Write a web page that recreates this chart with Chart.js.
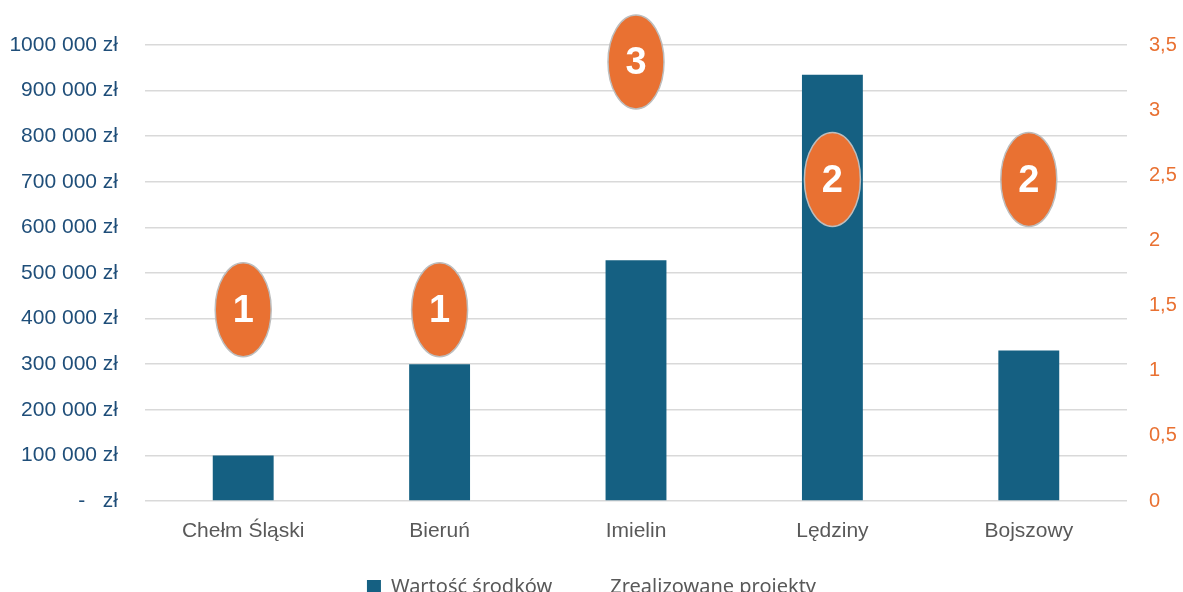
<!DOCTYPE html>
<html>
<head>
<meta charset="utf-8">
<script src="https://cdn.jsdelivr.net/npm/chart.js@4/dist/chart.umd.min.js"></script>
<style>
  html, body { margin: 0; padding: 0; background: #ffffff; overflow: hidden; }
  #wrap { width: 1183px; height: 607px; position: relative; }
</style>
</head>
<body>
<div id="wrap"><canvas id="c"></canvas></div>
<script>
const categories = ['Chełm Śląski', 'Bieruń', 'Imielin', 'Lędziny', 'Bojszowy'];
const fundValues = [100000, 300000, 528000, 935000, 330000];
const projectCounts = [1, 1, 3, 2, 2];
const leftTickLabels = ['-   zł', '100 000 zł', '200 000 zł', '300 000 zł', '400 000 zł', '500 000 zł',
  '600 000 zł', '700 000 zł', '800 000 zł', '900 000 zł', '1000 000 zł'];
const rightTickLabels = ['0', '0,5', '1', '1,5', '2', '2,5', '3', '3,5'];
const seriesNames = ['Wartość środków', 'Zrealizowane projekty'];

const BAR_COLOR = '#156082';
const ORANGE = '#E97132';

const ellipseLabels = {
  id: 'ellipseLabels',
  afterDatasetsDraw(chart) {
    const meta = chart.getDatasetMeta(1);
    const ctx = chart.ctx;
    const rx = 28, ry = 47;
    meta.data.forEach((pt, i) => {
      const cx = pt.x;
      const cy = Math.max(pt.y - 61, ry + 15);
      ctx.save();
      ctx.beginPath();
      ctx.ellipse(cx, cy, rx, ry, 0, 0, Math.PI * 2);
      ctx.fillStyle = ORANGE;
      ctx.fill();
      ctx.lineWidth = 1.5;
      ctx.strokeStyle = '#BDBDBD';
      ctx.stroke();
      ctx.fillStyle = '#ffffff';
      ctx.font = 'bold 38px "Liberation Sans", Arial, sans-serif';
      ctx.textAlign = 'center';
      ctx.textBaseline = 'middle';
      ctx.fillText(String(projectCounts[i]), cx, cy + 2);
      ctx.restore();
    });
  }
};

new Chart(document.getElementById('c'), {
  type: 'bar',
  data: {
    labels: categories,
    datasets: [
      {
        label: seriesNames[0],
        data: fundValues,
        backgroundColor: BAR_COLOR,
        yAxisID: 'y',
        barPercentage: 0.62,
        categoryPercentage: 0.5,
        order: 2
      },
      {
        type: 'line',
        label: seriesNames[1],
        data: projectCounts,
        yAxisID: 'y1',
        showLine: false,
        pointRadius: 0,
        borderColor: 'rgba(0,0,0,0)',
        backgroundColor: 'rgba(0,0,0,0)',
        order: 1
      }
    ]
  },
  options: {
    responsive: true,
    maintainAspectRatio: false,
    animation: false,
    layout: { padding: { top: 45, bottom: 0, left: 0, right: 0 } },
    plugins: {
      tooltip: { enabled: false },
      legend: {
        position: 'bottom',
        labels: {
          font: { family: '"Noto Sans", "Liberation Sans", sans-serif', size: 20 },
          color: '#595959',
          boxWidth: 14,
          boxHeight: 14,
          padding: 34,
          generateLabels(chart) {
            return chart.data.datasets.map((ds, i) => ({
              text: ds.label,
              fillStyle: i === 0 ? BAR_COLOR : 'rgba(0,0,0,0)',
              strokeStyle: 'rgba(0,0,0,0)',
              lineWidth: 0,
              fontColor: '#595959',
              datasetIndex: i,
              hidden: false
            }));
          }
        }
      }
    },
    scales: {
      x: {
        grid: { display: false },
        border: { display: false },
        ticks: {
          color: '#595959',
          font: { family: '"Liberation Sans", Arial, sans-serif', size: 21 },
          padding: 10
        },
        afterFit(scale) { scale.height = 42; }
      },
      y: {
        position: 'left',
        min: 0,
        max: 1000000,
        grid: { color: '#D9D9D9', lineWidth: 1.5, drawTicks: false },
        border: { display: false },
        ticks: {
          stepSize: 100000,
          color: '#1F4E79',
          font: { family: '"Liberation Sans", Arial, sans-serif', size: 21 },
          padding: 27,
          callback(value, index) { return leftTickLabels[index]; }
        },
        afterFit(scale) { scale.width = 145; }
      },
      y1: {
        position: 'right',
        min: 0,
        max: 3.5,
        grid: { display: false, drawTicks: false },
        border: { display: false },
        ticks: {
          stepSize: 0.5,
          color: ORANGE,
          font: { family: '"Liberation Sans", Arial, sans-serif', size: 20 },
          padding: 22,
          callback(value, index) { return rightTickLabels[index]; }
        },
        afterFit(scale) { scale.width = 56; }
      }
    }
  },
  plugins: [ellipseLabels]
});
</script>
</body>
</html>
